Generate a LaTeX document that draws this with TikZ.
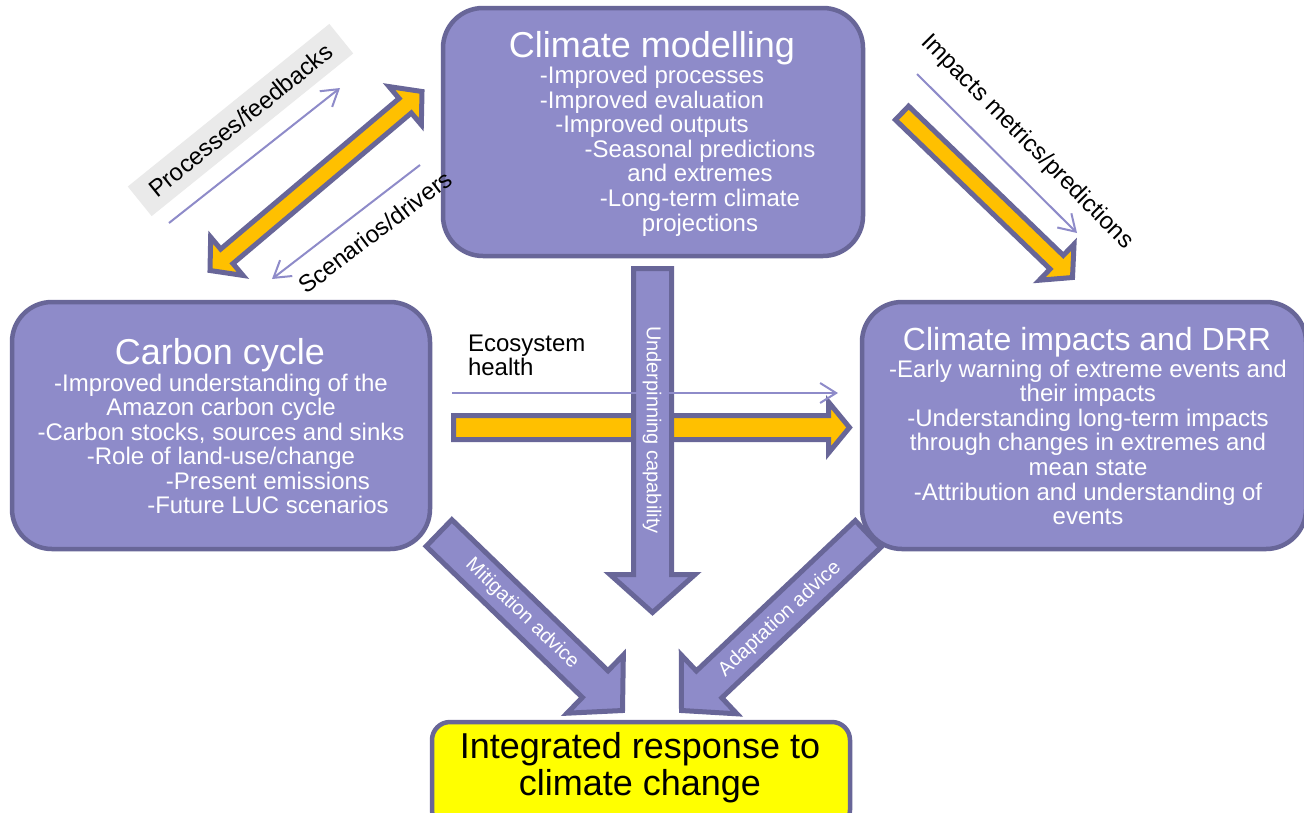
\documentclass[tikz,border=0pt]{standalone}
\usepackage{fontspec}
\setmainfont{Liberation Sans}
\usetikzlibrary{calc,arrows.meta}

\definecolor{boxpurple}{RGB}{142,139,201}
\definecolor{edgepurple}{RGB}{104,102,152}
\definecolor{linkpurple}{RGB}{142,139,201}
\definecolor{amber}{RGB}{255,192,0}
\definecolor{labelgrey}{RGB}{234,234,234}
\definecolor{responseyellow}{RGB}{255,255,0}

% Block arrow with one head: #1 style, #2 tail, #3 tip,
% #4 shaft half-width, #5 head half-width, #6 head length
\newcommand\blockarrowone[6]{%
  \coordinate (#3-base) at ($(#3)!#6!(#2)$);
  \draw[#1] ($(#2)!#4!90:(#3)$) -- ($(#3-base)!#4!90:(#3)$)
    -- ($(#3-base)!#5!90:(#3)$) -- (#3)
    -- ($(#3-base)!#5!-90:(#3)$) -- ($(#3-base)!#4!-90:(#3)$)
    -- ($(#2)!#4!-90:(#3)$) -- cycle;
}
% Block arrow with a head at both ends
\newcommand\blockarrowtwo[6]{%
  \coordinate (#3-base) at ($(#3)!#6!(#2)$);
  \coordinate (#2-base) at ($(#2)!#6!(#3)$);
  \draw[#1] (#2) -- ($(#2-base)!#5!90:(#3)$) -- ($(#2-base)!#4!90:(#3)$)
    -- ($(#3-base)!#4!90:(#3)$) -- ($(#3-base)!#5!90:(#3)$) -- (#3)
    -- ($(#3-base)!#5!-90:(#3)$) -- ($(#3-base)!#4!-90:(#3)$)
    -- ($(#2-base)!#4!-90:(#3)$) -- ($(#2-base)!#5!-90:(#3)$) -- cycle;
}

\begin{document}
\begin{tikzpicture}[x=1pt,y=-1pt,
  every node/.style={inner sep=0pt, outer sep=0pt},
  box/.style={draw=edgepurple, fill=boxpurple, line width=4.5pt,
    rounded corners=40pt},
  yarrow/.style={fill=amber, draw=edgepurple, line width=5pt, line join=miter},
  parrow/.style={fill=boxpurple, draw=edgepurple, line width=5pt, line join=miter},
  link/.style={draw=linkpurple, line width=2pt,
    -{Straight Barb[length=16pt,width=20pt]}},
  body/.style={text=white, font=\fontsize{24}{24.6}\selectfont, anchor=base},
  title/.style={text=white, font=\fontsize{36}{37}\selectfont, anchor=base},
  linklabel/.style={text=black, font=\fontsize{24}{24.6}\selectfont},
  arrowlabel/.style={text=white, font=\fontsize{20}{21}\selectfont}]

\useasboundingbox (0,0) rectangle (1304,812);
\fill[white] (0,0) rectangle (1304,812);

% ---- end points of the block arrows and thin links
\coordinate (a1-low) at (210,270.5);
\coordinate (a1-up)  at (422,91.5);
\coordinate (a2-tail) at (902,113);
\coordinate (a2-tip)  at (1072.5,277.5);
\coordinate (a3-tail) at (453.5,427.5);
\coordinate (a3-tip)  at (849.5,427.5);
\coordinate (a4-tail) at (652.5,268.5);
\coordinate (a4-tip)  at (652.5,612.5);
\coordinate (a5-tail) at (439,533);
\coordinate (a5-tip)  at (622.5,710.5);
\coordinate (a6-tail) at (868,534);
\coordinate (a6-tip)  at (681.5,710.5);

\coordinate (t1-a) at (169,223);
\coordinate (t1-b) at (340,88);
\coordinate (t2-a) at (420,165);
\coordinate (t2-b) at (272,279);
\coordinate (t3-a) at (917,74);
\coordinate (t3-b) at (1077,233);
\coordinate (t4-a) at (452,393);
\coordinate (t4-b) at (838,393);

% ---- label with grey band
\node[rotate=38.9, fill=labelgrey, minimum width=259pt, minimum height=38pt,
  linklabel] (lbl-proc) at (240.5,120) {Processes/feedbacks};

% ---- thin links
\draw[link] (t1-a) -- (t1-b);
\draw[link] (t2-a) -- (t2-b);
\draw[link] (t3-a) -- (t3-b);

\node[linklabel, rotate=-45.3] (lbl-imp) at (1027,142) {Impacts metrics/predictions};

% ---- block arrows
\blockarrowtwo{yarrow}{a1-low}{a1-up}{9.5pt}{25pt}{22pt}
\blockarrowone{yarrow}{a2-tail}{a2-tip}{9.5pt}{25pt}{22pt}
\blockarrowone{yarrow}{a3-tail}{a3-tip}{12pt}{25.5pt}{21pt}
\blockarrowone{parrow}{a4-tail}{a4-tip}{19pt}{42.5pt}{38pt}
\blockarrowone{parrow}{a5-tail}{a5-tip}{18.5pt}{40.5pt}{38pt}
\blockarrowone{parrow}{a6-tail}{a6-tip}{18.5pt}{40.5pt}{38pt}

\draw[link] (t4-a) -- (t4-b);
\node[linklabel, anchor=base west] (lbl-eco) at (468,351) {Ecosystem};
\node[linklabel, anchor=base west] (lbl-eco2) at (468,375.6) {health};

\node[arrowlabel, rotate=-90] (lbl-under) at (652,430) {Underpinning capability};
\node[arrowlabel, rotate=-44] (lbl-mit) at (522,614) {Mitigation advice};
\node[arrowlabel, rotate=43] (lbl-adapt) at (780,619) {Adaptation advice};

% ---- boxes
\node[box, minimum width=420pt, minimum height=248pt] (cm) at (653,132) {};
\node[box, minimum width=418pt, minimum height=247pt] (cc) at (221,425.5) {};
\node[box, minimum width=444pt, minimum height=247pt] (ci) at (1084,425.5) {};
\node[draw=edgepurple, fill=responseyellow, line width=4.5pt, rounded corners=18pt,
  minimum width=418pt, minimum height=106pt] (ir) at (641,775) {};

% label that runs onto the modelling box edge
\node[linklabel, rotate=37.2] (lbl-scen) at (375,232) {Scenarios/drivers};

% ---- climate modelling
\node[title] (cm-title) at (652,57) {Climate modelling};
\foreach \txt [count=\i from 0] in {-Improved processes,-Improved evaluation,-Improved outputs}
  \node[body] (cm-a\i) at (652,83.5+24.6*\i) {\txt};
\foreach \txt [count=\i from 3] in {-Seasonal predictions,and extremes,-Long-term climate,projections}
  \node[body] (cm-b\i) at (700,83.5+24.6*\i) {\txt};

% ---- carbon cycle
\node[title] (cc-title) at (220,364) {Carbon cycle};
\foreach \txt [count=\i from 0] in {-Improved understanding of the,Amazon carbon cycle,{-Carbon stocks, sources and sinks},-Role of land-use/change}
  \node[body] (cc-a\i) at (221,391+24.5*\i) {\txt};
\foreach \txt [count=\i from 4] in {-Present emissions,-Future LUC scenarios}
  \node[body] (cc-b\i) at (268,391+24.5*\i) {\txt};

% ---- climate impacts
\node[title, font=\fontsize{32}{33}\selectfont] (ci-title) at (1087,350) {Climate impacts and DRR};
\foreach \txt [count=\i from 0] in {-Early warning of extreme events and,their impacts,-Understanding long-term impacts,through changes in extremes and,mean state,-Attribution and understanding of,events}
  \node[body] (ci-a\i) at (1088,377+24.6*\i) {\txt};

% ---- integrated response
\node[anchor=base, font=\fontsize{36}{37}\selectfont] (ir-1) at (640,758) {Integrated response to};
\node[anchor=base, font=\fontsize{36}{37}\selectfont] (ir-2) at (640,795) {climate change};

\end{tikzpicture}
\end{document}
